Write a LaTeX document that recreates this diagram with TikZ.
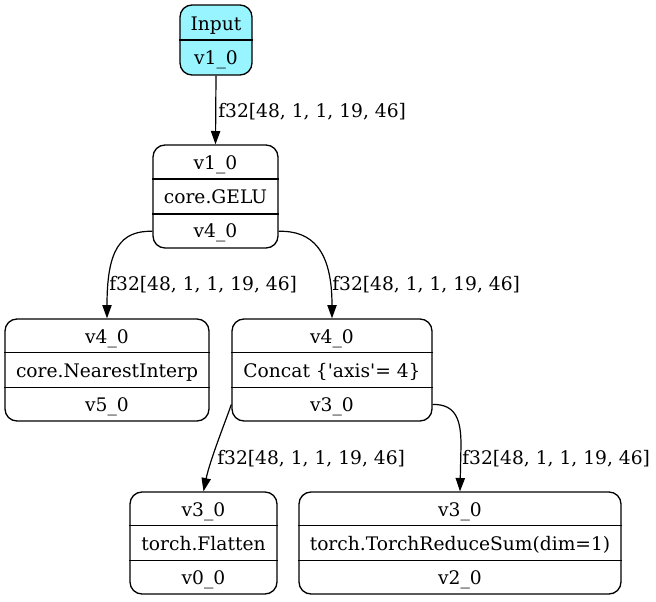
\documentclass[tikz,border=0pt]{standalone}
\usepackage{fontspec}
\setmainfont{DejaVu Serif}[Ligatures=TeXOff]
\usetikzlibrary{arrows.meta,calc}
\definecolor{inputcyan}{HTML}{98F5FF}
\begin{document}
\begin{tikzpicture}[x=0.75pt,y=-0.75pt,
  box/.style={draw, line width=1pt, rounded corners=9pt, inner sep=0pt},
  txt/.style={anchor=base, inner sep=0pt, font=\fontsize{14pt}{17pt}\selectfont},
  lbl/.style={anchor=base west, inner sep=0pt, font=\fontsize{14pt}{17pt}\selectfont},
  edgeline/.style={draw, line width=0.9pt, -{Triangle[length=10pt,width=7pt]}},
  divider/.style={draw, line width=1pt}]
\useasboundingbox (0,0) rectangle (656,601);

% Input
\node[box, fill=inputcyan, minimum width=54pt, minimum height=52.5pt] (inp) at (216,40) {};
\draw[divider] (inp.west) -- (inp.east);
\node[txt] (inp1) at (216,30) {Input};
\node[txt] (inp2) at (216,64) {v1\_0};

% GELU
\node[box, minimum width=93.75pt, minimum height=77.25pt] (gelu) at (215.5,196.5) {};
\draw[divider] ($(gelu.north west)!1/3!(gelu.south west)$) -- ($(gelu.north east)!1/3!(gelu.south east)$);
\draw[divider] ($(gelu.north west)!2/3!(gelu.south west)$) -- ($(gelu.north east)!2/3!(gelu.south east)$);
\node[txt] (gelu1) at (215.5,169) {v1\_0};
\node[txt] (gelu2) at (215.5,203) {core.GELU};
\node[txt] (gelu3) at (215.5,237) {v4\_0};

% NearestInterp
\node[box, minimum width=153pt, minimum height=76.5pt] (near) at (107,370) {};
\draw[divider] ($(near.north west)!1/3!(near.south west)$) -- ($(near.north east)!1/3!(near.south east)$);
\draw[divider] ($(near.north west)!2/3!(near.south west)$) -- ($(near.north east)!2/3!(near.south east)$);
\node[txt] (near1) at (107,343) {v4\_0};
\node[txt] (near2) at (107,377) {core.NearestInterp};
\node[txt] (near3) at (107,411) {v5\_0};

% Concat
\node[box, minimum width=150pt, minimum height=76.5pt] (conc) at (332,370) {};
\draw[divider] ($(conc.north west)!1/3!(conc.south west)$) -- ($(conc.north east)!1/3!(conc.south east)$);
\draw[divider] ($(conc.north west)!2/3!(conc.south west)$) -- ($(conc.north east)!2/3!(conc.south east)$);
\node[txt] (conc1) at (332,343) {v4\_0};
\node[txt] (conc2) at (332,377) {Concat \{'axis'= 4\}};
\node[txt] (conc3) at (332,411) {v3\_0};

% Flatten
\node[box, minimum width=110.25pt, minimum height=76.5pt] (flat) at (203.5,543) {};
\draw[divider] ($(flat.north west)!1/3!(flat.south west)$) -- ($(flat.north east)!1/3!(flat.south east)$);
\draw[divider] ($(flat.north west)!2/3!(flat.south west)$) -- ($(flat.north east)!2/3!(flat.south east)$);
\node[txt] (flat1) at (203.5,516) {v3\_0};
\node[txt] (flat2) at (203.5,550) {torch.Flatten};
\node[txt] (flat3) at (203.5,584) {v0\_0};

% ReduceSum
\node[box, minimum width=241.5pt, minimum height=76.5pt] (red) at (460,543) {};
\draw[divider] ($(red.north west)!1/3!(red.south west)$) -- ($(red.north east)!1/3!(red.south east)$);
\draw[divider] ($(red.north west)!2/3!(red.south west)$) -- ($(red.north east)!2/3!(red.south east)$);
\node[txt] (red1) at (460,516) {v3\_0};
\node[txt] (red2) at (460,550) {torch.TorchReduceSum(dim=1)};
\node[txt] (red3) at (460,584) {v2\_0};

% ports
\coordinate (g3w) at ($(gelu.south west)!1/6!(gelu.north west)$);
\coordinate (g3e) at ($(gelu.south east)!1/6!(gelu.north east)$);
\coordinate (c3w) at ($(conc.south west)!1/6!(conc.north west)$);
\coordinate (c3e) at ($(conc.south east)!1/6!(conc.north east)$);

% edges
\draw[edgeline] (inp.south) -- (gelu.north);
\node[lbl] (l1) at (218,117) {f32[48, 1, 1, 19, 46]};

\draw[edgeline] (g3w) .. controls (120,230.5) and (107,250) .. (near.north);
\node[lbl] (l2) at (109,290) {f32[48, 1, 1, 19, 46]};

\draw[edgeline] (g3e) .. controls (312,230.5) and (332,250) .. (conc.north);
\node[lbl] (l3) at (332,290) {f32[48, 1, 1, 19, 46]};

\draw[edgeline] (c3w) .. controls (226,420) and (210,460) .. (flat.north);
\node[lbl] (l4) at (217,464) {f32[48, 1, 1, 19, 46]};

\draw[edgeline] (c3e) .. controls (456,404) and (461,420) .. (461,445) -- (red.north);
\node[lbl] (l5) at (462,464) {f32[48, 1, 1, 19, 46]};
\end{tikzpicture}
\end{document}
